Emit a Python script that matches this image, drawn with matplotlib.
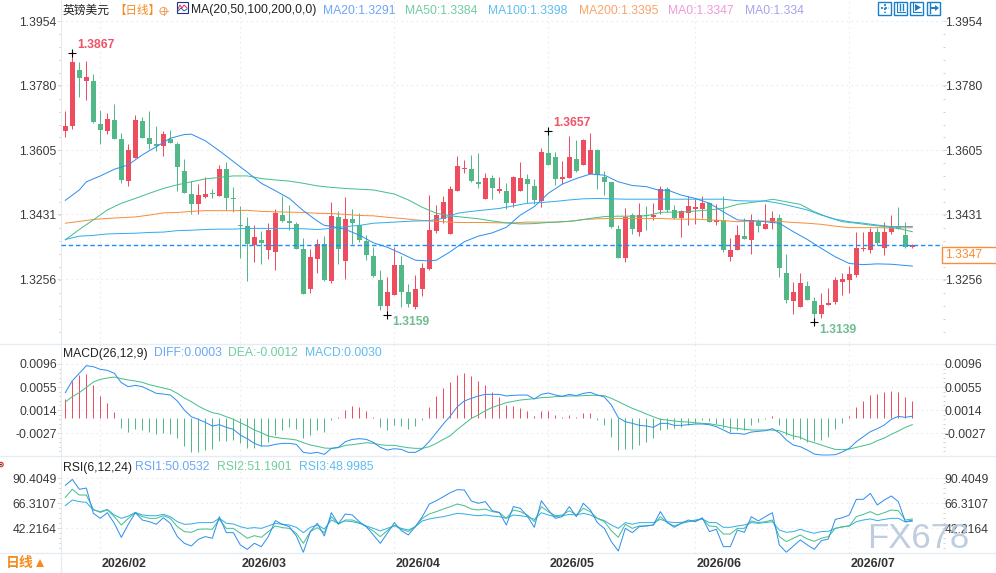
import numpy as np
import matplotlib
matplotlib.use('Agg')
import matplotlib.pyplot as plt
from matplotlib.patches import Rectangle, Circle
from matplotlib.transforms import ScaledTranslation

plt.rcParams['font.family'] = ['Liberation Sans', 'Noto Sans CJK SC', 'DejaVu Sans']

# daily GBP/USD candles
opens = [1.3656,1.3670,1.3822,1.3792,1.3792,1.3675,1.3656,1.3686,1.3635,1.3521,
         1.3583,1.3684,1.3638,1.3621,1.3616,1.3635,1.3621,1.3548,1.3486,1.3459,
         1.3478,1.3487,1.3481,1.3554,1.3475,1.3402,1.3399,1.3348,1.3362,1.3334,
         1.3329,1.3429,1.3413,1.3405,1.3337,1.3229,1.3310,1.3351,1.3251,1.3424,
         1.3305,1.3418,1.3402,1.3359,1.3318,1.3253,1.3183,1.3213,1.3294,1.3221,
         1.3180,1.3229,1.3283,1.3386,1.3418,1.3378,1.3494,1.3554,1.3554,1.3518,
         1.3472,1.3529,1.3494,1.3494,1.3462,1.3494,1.3527,1.3508,1.3467,1.3597,
         1.3586,1.3527,1.3529,1.3581,1.3565,1.3541,1.3605,1.3532,1.3518,1.3391,
         1.3313,1.3429,1.3383,1.3429,1.3424,1.3443,1.3500,1.3443,1.3421,1.3435,
         1.3445,1.3445,1.3462,1.3410,1.3416,1.3316,1.3334,1.3372,1.3362,1.3410,
         1.3391,1.3408,1.3421,1.3272,1.3196,1.3180,1.3237,1.3196,1.3161,1.3186,
         1.3194,1.3248,1.3253,1.3267,1.3337,1.3334,1.3383,1.3340,1.3383,1.3399,
         1.3375,1.3343]
highs = [1.3711,1.3867,1.3843,1.3846,1.3811,1.3713,1.3705,1.3730,1.3651,1.3621,
         1.3700,1.3694,1.3711,1.3670,1.3656,1.3659,1.3627,1.3581,1.3521,1.3513,
         1.3532,1.3500,1.3565,1.3573,1.3505,1.3454,1.3424,1.3402,1.3386,1.3408,
         1.3445,1.3481,1.3456,1.3410,1.3367,1.3337,1.3364,1.3372,1.3464,1.3440,
         1.3478,1.3445,1.3435,1.3375,1.3343,1.3280,1.3261,1.3343,1.3318,1.3242,
         1.3267,1.3299,1.3483,1.3456,1.3481,1.3508,1.3589,1.3578,1.3592,1.3597,
         1.3543,1.3537,1.3532,1.3516,1.3535,1.3573,1.3540,1.3527,1.3610,1.3657,
         1.3600,1.3575,1.3643,1.3632,1.3635,1.3651,1.3608,1.3548,1.3518,1.3402,
         1.3448,1.3435,1.3462,1.3454,1.3462,1.3508,1.3505,1.3456,1.3443,1.3481,
         1.3472,1.3481,1.3464,1.3459,1.3481,1.3367,1.3402,1.3421,1.3432,1.3418,
         1.3459,1.3440,1.3432,1.3324,1.3248,1.3272,1.3251,1.3207,1.3218,1.3232,
         1.3261,1.3272,1.3291,1.3383,1.3383,1.3394,1.3394,1.3410,1.3429,1.3451,
         1.3410,1.3351]
lows = [1.3640,1.3662,1.3748,1.3740,1.3678,1.3621,1.3648,1.3635,1.3516,1.3508,
        1.3583,1.3638,1.3608,1.3602,1.3589,1.3624,1.3494,1.3489,1.3432,1.3432,
        1.3475,1.3475,1.3481,1.3443,1.3437,1.3313,1.3251,1.3302,1.3297,1.3310,
        1.3280,1.3410,1.3389,1.3337,1.3215,1.3218,1.3272,1.3251,1.3245,1.3297,
        1.3256,1.3351,1.3356,1.3307,1.3261,1.3172,1.3159,1.3213,1.3180,1.3180,
        1.3175,1.3210,1.3280,1.3380,1.3408,1.3378,1.3494,1.3543,1.3518,1.3502,
        1.3472,1.3472,1.3489,1.3445,1.3451,1.3494,1.3462,1.3459,1.3451,1.3565,
        1.3510,1.3513,1.3529,1.3546,1.3565,1.3540,1.3500,1.3483,1.3394,1.3313,
        1.3302,1.3378,1.3372,1.3389,1.3416,1.3432,1.3437,1.3418,1.3370,1.3402,
        1.3405,1.3421,1.3410,1.3402,1.3329,1.3305,1.3334,1.3364,1.3324,1.3383,
        1.3391,1.3391,1.3261,1.3191,1.3161,1.3180,1.3199,1.3139,1.3150,1.3186,
        1.3188,1.3213,1.3218,1.3261,1.3332,1.3326,1.3348,1.3321,1.3378,1.3391,
        1.3340,1.3340]
closes = [1.3670,1.3843,1.3800,1.3803,1.3681,1.3659,1.3689,1.3635,1.3524,1.3605,
          1.3686,1.3638,1.3621,1.3617,1.3648,1.3624,1.3559,1.3489,1.3459,1.3483,
          1.3486,1.3485,1.3554,1.3475,1.3473,1.3400,1.3351,1.3370,1.3353,1.3389,
          1.3435,1.3413,1.3408,1.3337,1.3215,1.3316,1.3351,1.3253,1.3426,1.3337,
          1.3418,1.3408,1.3362,1.3321,1.3264,1.3183,1.3221,1.3294,1.3221,1.3188,
          1.3229,1.3286,1.3389,1.3429,1.3464,1.3500,1.3562,1.3556,1.3521,1.3513,
          1.3529,1.3502,1.3500,1.3462,1.3532,1.3529,1.3513,1.3470,1.3600,1.3565,
          1.3527,1.3532,1.3586,1.3548,1.3632,1.3605,1.3537,1.3518,1.3397,1.3313,
          1.3424,1.3391,1.3429,1.3427,1.3429,1.3500,1.3443,1.3421,1.3440,1.3454,
          1.3451,1.3462,1.3410,1.3416,1.3334,1.3334,1.3375,1.3364,1.3416,1.3399,
          1.3405,1.3421,1.3286,1.3199,1.3221,1.3245,1.3199,1.3161,1.3186,1.3191,
          1.3253,1.3256,1.3270,1.3340,1.3340,1.3383,1.3353,1.3383,1.3399,1.3391,
          1.3343,1.3347]

# moving averages, read at every other session or so
ma20_idx = [0,2,3,5,7,9,11,13,15,17,18,20,22,24,26,28,30,32,34,36,37,38,40,42,44,46,48,50,52,53,55,57,59,61,63,65,67,69,71,73,75,77,79,81,83,85,86,88,90,92,94,96,98,100,102,104,106,108,110,112,114,116,118,121]
ma20 = [1.3469,1.3497,1.3519,1.3535,1.3553,1.3565,1.3592,1.3614,1.3637,1.3647,1.3648,1.3630,1.3603,1.3574,1.3545,1.3515,1.3495,1.3474,1.3441,1.3413,1.3401,1.3399,1.3390,1.3375,1.3354,1.3342,1.3325,1.3307,1.3305,1.3307,1.3330,1.3357,1.3372,1.3381,1.3396,1.3429,1.3452,1.3488,1.3513,1.3528,1.3540,1.3537,1.3519,1.3509,1.3506,1.3495,1.3497,1.3483,1.3474,1.3461,1.3438,1.3416,1.3414,1.3411,1.3407,1.3384,1.3363,1.3339,1.3316,1.3298,1.3295,1.3297,1.3296,1.3291]
ma50_idx = [0,2,4,6,8,10,12,14,16,18,20,22,24,26,28,30,32,34,36,38,40,44,47,49,51,53,55,57,59,61,63,65,67,69,71,73,75,77,79,81,83,85,86,88,90,92,94,96,98,100,101,103,105,107,109,111,113,115,117,119,121]
ma50 = [1.3362,1.3390,1.3416,1.3443,1.3461,1.3474,1.3488,1.3501,1.3511,1.3519,1.3527,1.3531,1.3535,1.3535,1.3528,1.3524,1.3521,1.3515,1.3508,1.3504,1.3501,1.3497,1.3486,1.3470,1.3450,1.3434,1.3427,1.3423,1.3419,1.3413,1.3408,1.3405,1.3406,1.3409,1.3411,1.3414,1.3420,1.3425,1.3426,1.3426,1.3427,1.3436,1.3437,1.3437,1.3440,1.3443,1.3447,1.3458,1.3463,1.3468,1.3472,1.3465,1.3458,1.3438,1.3423,1.3411,1.3407,1.3402,1.3398,1.3393,1.3384]
ma100_idx = [0,2,4,6,10,12,14,16,18,20,22,24,26,28,30,32,34,36,38,40,42,44,46,48,50,52,54,56,58,60,62,64,66,68,70,72,74,76,78,80,82,85,86,88,90,92,94,96,98,100,102,104,106,108,110,112,114,116,118,121]
ma100 = [1.3363,1.3372,1.3374,1.3378,1.3380,1.3382,1.3383,1.3387,1.3388,1.3390,1.3391,1.3391,1.3393,1.3393,1.3393,1.3393,1.3392,1.3390,1.3393,1.3398,1.3401,1.3407,1.3409,1.3411,1.3413,1.3414,1.3420,1.3434,1.3439,1.3443,1.3447,1.3454,1.3461,1.3463,1.3466,1.3470,1.3473,1.3474,1.3473,1.3472,1.3472,1.3472,1.3472,1.3472,1.3472,1.3472,1.3472,1.3468,1.3467,1.3467,1.3461,1.3452,1.3443,1.3429,1.3418,1.3411,1.3407,1.3402,1.3398,1.3398]
ma200_idx = [0,2,4,6,8,10,12,14,16,18,20,22,24,26,28,30,32,34,36,38,40,42,44,46,48,50,52,54,56,58,60,62,64,66,68,70,72,74,76,78,80,83,85,86,88,90,92,94,96,98,100,102,104,106,108,110,112,114,116,118,121]
ma200 = [1.3407,1.3412,1.3417,1.3420,1.3422,1.3424,1.3429,1.3435,1.3436,1.3439,1.3441,1.3441,1.3441,1.3442,1.3439,1.3438,1.3437,1.3436,1.3434,1.3433,1.3431,1.3428,1.3427,1.3423,1.3420,1.3416,1.3413,1.3411,1.3409,1.3409,1.3409,1.3408,1.3408,1.3410,1.3410,1.3410,1.3412,1.3417,1.3419,1.3420,1.3420,1.3420,1.3420,1.3419,1.3418,1.3418,1.3416,1.3414,1.3411,1.3413,1.3413,1.3412,1.3409,1.3407,1.3404,1.3399,1.3395,1.3395,1.3395,1.3394,1.3395]

# MACD pane
macd_hist = [.00336,.00657,.00764,.00782,.00586,.00390,.00265,.00105,-.00181,-.00252,-.00198,-.00216,-.00252,-.00287,-.00270,-.00287,-.00359,-.00501,-.00608,-.00608,-.00573,-.00555,-.00412,-.00412,-.00394,-.00448,-.00537,-.00537,-.00501,-.00430,-.00305,-.00216,-.00163,-.00198,-.00359,-.00305,-.00216,-.00252,-.00040,
             .00015,.00140,.00210,.00194,.00122,.00015,-.00163,-.00216,-.00127,-.00145,-.00198,-.00145,-.00038,.00194,.00390,.00532,.00639,.00764,.00800,.00746,.00657,.00586,.00461,.00372,.00229,.00211,.00176,.00122,.00033,.00122,.00122,.00051,.00015,.00051,.00015,.00087,.00087,-.00038,-.00127,-.00340,-.00573,-.00555,-.00555,-.00484,-.00430,-.00359,-.00216,
             -.00198,-.00181,-.00163,-.00127,-.00091,-.00038,-.00056,-.00109,-.00181,-.00252,-.00216,-.00216,-.00127,-.00074,-.00020,.00033,-.00127,-.00305,-.00377,-.00377,-.00430,-.00412,-.00394,-.00340,-.00198,-.00091,.00033,.00194,.00300,.00407,.00425,.00461,.00479,.00461,.00372,.0030]
diff = [.00449,.00663,.00794,.00930,.00912,.00865,.00847,.00794,.00627,.00556,.00580,.00556,.00497,.00437,.00425,.00407,.00301,.00140,.00021,-.00026,-.00080,-.00145,-.00121,-.00169,-.00204,-.00305,-.00371,-.00454,-.00501,-.00501,-.00472,-.00454,-.00454,-.00472,-.00614,-.00632,-.00614,-.00650,-.00543,
        -.00525,-.00424,-.00383,-.00371,-.00383,-.00436,-.00525,-.00573,-.00549,-.00561,-.00614,-.00614,-.00549,-.00418,-.00264,-.00109,.00033,.00200,.00301,.00348,.00390,.00419,.00419,.00419,.00390,.00402,.00407,.00407,.00336,.00419,.00443,.00407,.00384,.00419,.00396,.00437,.00455,.00407,.00372,.00229,.00004,-.00068,-.00097,-.00133,-.00145,-.00169,-.00097,
        -.00097,-.00133,-.00133,-.00121,-.00109,-.00109,-.00121,-.00157,-.00216,-.00276,-.00276,-.00293,-.00252,-.00240,-.00228,-.00192,-.00264,-.00394,-.00484,-.00513,-.00573,-.00644,-.00662,-.00662,-.00656,-.00608,-.00543,-.00424,-.00335,-.00246,-.00192,-.00127,-.00026,.00027,.00010,.0003]
dea = [.00283,.00378,.00449,.00544,.00639,.00687,.00710,.00728,.00699,.00675,.00657,.00633,.00592,.00562,.00532,.00503,.00437,.00354,.00289,.00211,.00146,.00093,.00069,.00021,-.00026,-.00086,-.00145,-.00216,-.00264,-.00323,-.00347,-.00365,-.00377,-.00394,-.00442,-.00484,-.00507,-.00537,-.00543,
       -.00531,-.00489,-.00478,-.00460,-.00442,-.00454,-.00478,-.00489,-.00489,-.00513,-.00531,-.00543,-.00543,-.00513,-.00454,-.00383,-.00317,-.00204,-.00109,-.00008,.00051,.00128,.00188,.00229,.00271,.00295,.00318,.00330,.00342,.00360,.00366,.00378,.00384,.00390,.00390,.00396,.00402,.00402,.00396,.00348,.00289,.00229,.00170,.00122,.00069,.00021,-.00026,
       -.00038,-.00056,-.00068,-.00074,-.00086,-.00097,-.00103,-.00127,-.00145,-.00175,-.00187,-.00204,-.00216,-.00216,-.00216,-.00216,-.00228,-.00276,-.00323,-.00347,-.00406,-.00442,-.00484,-.00525,-.00561,-.00567,-.00555,-.00525,-.00495,-.00466,-.00406,-.00359,-.00293,-.00234,-.00169,-.0012]

# RSI pane
rsi1 = [83.4,89.1,79.6,80.8,56.6,51.8,57.2,47.0,33.6,46.1,57.2,50.2,48.6,46.1,52.4,47.0,34.3,27.9,25.3,31.7,34.3,32.7,53.4,38.1,38.1,26.3,22.1,27.9,24.7,34.3,49.6,46.1,43.8,34.9,19.3,39.1,47.0,34.9,57.2,
        46.4,56.0,55.0,48.6,43.8,35.9,27.9,37.5,47.7,40.0,35.9,43.8,53.4,65.5,68.7,72.5,76.4,79.3,78.9,68.4,66.2,67.8,59.1,57.5,45.4,63.0,61.4,54.0,43.2,68.7,59.8,51.8,53.4,63.0,53.4,66.2,59.8,47.7,42.2,29.5,20.5,42.2,38.1,43.8,44.5,45.4,58.2,
        47.7,43.2,47.0,50.2,48.6,52.4,39.1,41.3,24.7,24.7,40.6,38.4,53.4,49.3,53.4,57.2,26.3,19.3,25.3,31.1,26.3,22.1,30.4,32.0,50.8,52.4,55.0,70.0,70.0,75.7,64.6,69.4,73.2,67.8,48.6,50.0532]
rsi2 = [71.9,79.6,74.1,74.1,60.4,57.5,59.8,53.4,45.4,51.8,57.2,53.4,51.8,51.8,54.3,51.8,43.8,39.1,38.4,41.3,41.6,41.3,50.8,42.2,42.2,37.5,32.7,35.2,33.6,39.1,44.5,42.9,42.2,37.5,27.9,39.1,42.9,38.1,53.4,
        46.1,50.2,50.2,47.7,43.8,39.7,34.3,40.0,45.4,41.3,39.1,43.8,51.8,56.0,58.2,60.7,63.0,65.5,63.9,60.7,59.8,60.7,58.2,57.2,51.8,59.8,58.2,55.0,48.6,63.0,58.2,54.3,55.0,59.1,55.0,61.4,58.2,51.8,48.6,40.0,33.6,46.1,42.2,44.5,44.5,45.4,53.4,
        47.7,44.5,47.0,48.6,49.3,51.2,44.5,43.8,36.8,36.8,42.2,42.2,49.3,47.7,48.6,50.2,34.3,29.5,32.7,35.9,32.0,29.8,32.7,34.3,42.2,43.8,44.5,53.4,55.6,58.2,55.0,57.2,59.8,59.1,50.2,51.1901]
rsi3 = [63.9,69.4,67.8,67.1,59.8,58.2,60.4,55.0,51.8,54.0,57.5,55.0,54.3,54.3,55.6,53.4,48.6,46.1,46.4,47.7,47.7,47.7,51.8,47.0,46.4,43.8,42.2,42.9,42.2,44.5,47.0,46.1,45.4,43.2,38.1,43.2,45.4,41.6,50.2,
        47.0,49.3,48.6,47.0,44.5,42.2,39.7,42.2,44.5,42.2,40.6,43.8,49.3,51.2,52.4,53.4,55.0,56.6,56.0,55.0,54.3,55.0,54.0,53.4,51.8,55.0,54.3,53.4,50.8,57.2,55.0,53.4,54.3,55.6,55.0,56.6,55.0,51.8,49.6,45.4,42.2,47.7,46.1,47.7,47.7,47.7,50.8,
        48.6,47.7,48.0,48.6,50.2,51.2,47.7,47.7,43.2,43.2,44.5,45.4,47.7,47.0,47.7,48.6,40.6,38.4,39.1,41.3,39.1,37.5,39.1,39.4,42.2,43.5,44.5,48.6,50.2,51.2,49.6,50.8,51.8,51.8,48.3,48.9985]

month_idx = [5, 25, 47, 69, 90, 112]
month_labels = ['2026/02', '2026/03', '2026/04', '2026/05', '2026/06', '2026/07']
price_ticks = [1.3954, 1.3780, 1.3605, 1.3431, 1.3256]
macd_ticks = [0.0096, 0.0055, 0.0014, -0.0027]
rsi_ticks = [90.4049, 66.3107, 42.2164]
last_price = 1.3347
peak_labels = [(1, highs[1], '1.3867', True), (69, highs[69], '1.3657', True),
               (46, lows[46], '1.3159', False), (107, lows[107], '1.3139', False)]

RED = '#ee4d5f'
GREEN = '#52b888'
BLUE = '#2f8ff0'
TEAL = '#45c08a'
SKY = '#33aeea'
ORANGE = '#f98d3e'
GRID = '#ebebeb'
EDGE = '#e6edf2'
TEXT = '#3a3a3a'
LW = 0.72

W, H = 996, 573
X0, X1 = 61, 943
fig = plt.figure(figsize=(W / 100, H / 100), dpi=100)


def pane(top, bottom, ylim):
    ax = fig.add_axes([X0 / W, 1 - bottom / H, (X1 - X0) / W, (bottom - top) / H])
    ax.set_xlim((X0 - 65.33) / 7, (X1 - 65.33) / 7)
    ax.set_ylim(*ylim)
    for s in ['top', 'right', 'bottom']:
        ax.spines[s].set_visible(False)
    ax.spines['left'].set_color(EDGE)
    ax.spines['left'].set_linewidth(0.8)
    ax.set_axisbelow(True)
    return ax


def style_y(ax, ticks, step, fmt):
    ax.set_yticks(ticks)
    ax.set_yticklabels([fmt % t for t in ticks], fontsize=8.7, color=TEXT)
    lo, hi = ax.get_ylim()
    ax.set_yticks(np.arange(ticks[0], lo, -step), minor=True)
    ax.tick_params(axis='y', which='major', left=True, right=True, labelleft=True, labelright=True,
                   length=2.6, width=0.7, color='#d5dde3', pad=0.5)
    ax.tick_params(axis='y', which='minor', left=True, right=True, length=1.2, width=0.7, color='#d0d0d0')
    ax.set_xticks(month_idx)
    ax.set_xticklabels([])
    ax.tick_params(axis='x', length=0)
    ax.grid(True, axis='both', which='major', color=GRID, lw=0.8, ls=(0, (1.5, 3)))
    # right-hand labels sit closer to the axis than the left ones
    nudge = ScaledTranslation(-2.5 / 100, 0, fig.dpi_scale_trans)
    for t in ax.yaxis.get_major_ticks():
        t.label2.set_transform(t.label2.get_transform() + nudge)


# price pane
ax = pane(0, 343, (1.30829, 1.40110))
style_y(ax, price_ticks, 0.0175 / 5, '%.4f')
idx = np.arange(len(closes))
o, h, l, c = map(np.array, (opens, highs, lows, closes))
colors = [RED if b >= a else GREEN for a, b in zip(o, c)]
ax.vlines(idx, l, h, colors=colors, lw=LW, zorder=2)
ax.bar(idx, np.maximum(np.abs(c - o), 0.0003), bottom=np.minimum(o, c), width=5 / 7, color=colors, lw=0, zorder=2)
ax.axhline(last_price, color='#1a8cff', lw=1.0, ls=(0, (3.2, 2)), zorder=4)
ax.plot(ma200_idx, ma200, color=ORANGE, lw=LW, zorder=3)
ax.plot(ma50_idx, ma50, color=TEAL, lw=LW, zorder=3)
ax.plot(ma100_idx, ma100, color=SKY, lw=LW, zorder=3)
ax.plot(ma20_idx, ma20, color=BLUE, lw=LW, zorder=3)
for i, v, s, up in peak_labels:
    ax.plot(i, v, marker='+', color='black', ms=5.5, mew=0.8, zorder=5)
    ax.annotate(s, (i, v), xytext=(3.2, 1.5 if up else -1), textcoords='offset points', ha='left',
                va='bottom' if up else 'top', fontsize=8.7, fontweight='bold',
                color='#ee5366' if up else '#70bb90', zorder=5)

# MACD pane
ax2 = pane(343, 456, (-.00679, .01334))
style_y(ax2, macd_ticks, 0.0041 / 5, '%.4f')
hist_colors = [RED if v >= 0 else GREEN for v in macd_hist]
ax2.vlines(idx, 0, macd_hist, colors=hist_colors, lw=LW, zorder=2)
ax2.plot(idx, dea, color=TEAL, lw=LW, zorder=3)
ax2.plot(idx, diff, color=BLUE, lw=LW, zorder=3)

# RSI pane
ax3 = pane(456, 553, (18.6, 111.5))
style_y(ax3, rsi_ticks, 24.0942 / 5, '%.4f')
ax3.plot(idx, rsi3, color=SKY, lw=LW, zorder=3)
ax3.plot(idx, rsi2, color=TEAL, lw=LW, zorder=3)
ax3.plot(idx, rsi1, color=BLUE, lw=LW, zorder=3)
ax3.set_xticklabels(month_labels, fontsize=8.9, fontweight='bold', color='#333333', ha='left')
ax3.tick_params(axis='x', pad=3.5)
shift = ScaledTranslation(1.5 / 100, 0, fig.dpi_scale_trans)
for t in ax3.get_xticklabels():
    t.set_transform(t.get_transform() + shift)

# header texts, pane rules, tool icons and watermark on a pixel-sized layer
deco = fig.add_axes([0, 0, 1, 1], zorder=10)
deco.set_xlim(0, W)
deco.set_ylim(H, 0)
deco.axis('off')


def label(x, y, s, color, size=8.7, **kw):
    deco.text(x, y, s, color=color, fontsize=size, va='center', ha=kw.pop('ha', 'left'), **kw)


for y in [343.5, 456, 553]:
    deco.plot([0, W], [y, y], color=EDGE, lw=1)

label(63, 10.5, '英镑美元', '#222222', size=8.5)
label(114.5, 10.5, '【日线】', '#f58a1f', size=8.3)
deco.add_patch(Circle((163.5, 11), 3.6, fc='none', ec='#f0a060', lw=0.7))
deco.plot([159.5, 167.5], [11, 11], color='#f0a060', lw=0.7)
deco.plot([163.5, 163.5], [7, 15], color='#f0a060', lw=0.7)
deco.add_patch(Rectangle((177, 2), 11, 11, fc='white', ec='#223388', lw=0.8))
deco.plot([178, 180, 182, 184, 187], [9, 5, 8, 5, 8], color='#dd3344', lw=0.7)
deco.plot([178, 181, 184, 187], [11, 8, 11, 9], color='#3355bb', lw=0.7)
label(191.5, 10.5, 'MA(20,50,100,200,0,0)', '#222222')
label(323, 10.5, 'MA20:1.3291', '#6aa6f5')
label(405.5, 10.5, 'MA50:1.3384', '#6fcd9f')
label(488, 10.5, 'MA100:1.3398', '#5dbdf0')
label(578.5, 10.5, 'MA200:1.3395', '#f9a468')
label(668, 10.5, 'MA0:1.3347', '#ee9ada')
label(745, 10.5, 'MA0:1.334', '#a3a3f3')

label(63, 353.5, 'MACD(26,12,9)', '#222222')
label(154, 353.5, 'DIFF:0.0003', '#6aa6f5')
label(228, 353.5, 'DEA:-0.0012', '#6fcd9f')
label(305.5, 353.5, 'MACD:0.0030', '#5dbdf0')
label(63, 467.5, 'RSI(6,12,24)', '#222222')
label(135.5, 467.5, 'RSI1:50.0532', '#6aa6f5')
label(217.5, 467.5, 'RSI2:51.1901', '#6fcd9f')
label(299.5, 467.5, 'RSI3:48.9985', '#5dbdf0')

# last price tag on the right axis
deco.add_patch(Rectangle((941.5, 246.5), 60, 16.5, fc='white', ec=ORANGE, lw=1, zorder=1))
label(945, 255, '1.3347', '#f98d2e', zorder=2)

# navigation buttons
for bx in [878, 894, 910, 927]:
    deco.add_patch(Rectangle((bx, 1.5), 13, 13, fc='white', ec='#1a7fc8', lw=1))
deco.plot([880.5, 889], [8, 8], color='#1a7fc8', lw=1.2, ls=(0, (1.3, 1)))
deco.plot([884.5, 884.5], [3.5, 12.5], color='#1a7fc8', lw=1.2, ls=(0, (1.3, 1)))
deco.plot([897, 897, 905], [3, 12, 12], color='#1a7fc8', lw=0.8)
deco.plot([900, 900], [4, 10], color='#1a7fc8', lw=1)
deco.plot([903, 903], [4, 10], color='#1a7fc8', lw=1)
deco.plot([913, 913, 921], [3, 12, 12], color='#1a7fc8', lw=0.8)
deco.fill([915, 915, 921], [4, 11, 7.5], color='#1a7fc8', lw=0)
deco.plot([930, 930], [3, 13], color='#1a7fc8', lw=1)
deco.plot([932, 936], [8, 8], color='#1a7fc8', lw=1.4)
deco.fill([935, 935, 939], [5, 11, 8], color='#1a7fc8', lw=0)

# period switch in the lower left corner
deco.plot([60.5, 60.5], [553, 573], color=EDGE, lw=1)
label(6, 563.5, '日线', '#f58a1f', size=10, fontweight='bold')
deco.fill([36, 44, 40], [567, 567, 559], color='#f58a1f', lw=0)

# small red marker at the edge of the RSI pane
deco.add_patch(Circle((1, 464.5), 2.2, fc='white', ec='#dd2222', lw=0.8))
deco.add_patch(Circle((1, 464.5), 0.9, fc='#222222', ec='none'))

label(867.5, 538.5, 'FX678', '#b4c6d9', size=25, alpha=0.85)

fig.savefig('out.png', dpi=100)
